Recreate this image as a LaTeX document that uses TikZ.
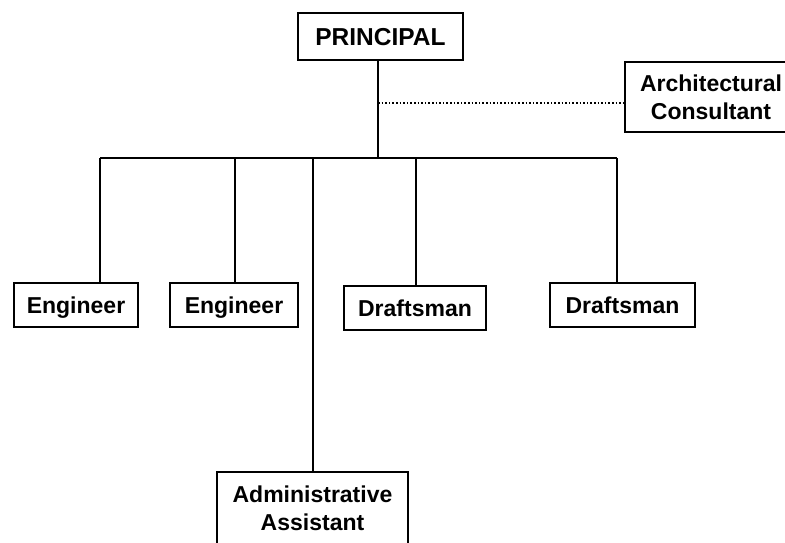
\documentclass[tikz,border=0pt]{standalone}
\usepackage{fontspec}
\setmainfont{Liberation Sans}
\begin{document}
\begin{tikzpicture}[x=1pt,y=-1pt,
  box/.style={draw,line width=2.6pt,rectangle,inner sep=0pt,align=center,
    font=\bfseries\fontsize{23}{28}\selectfont},
  onebox/.style={box,text height=16.5pt,text depth=0pt},
  thinbox/.style={box,line width=1.8pt},
  link/.style={line width=2.2pt},
  side/.style={line width=1.6pt,dotted}]
\useasboundingbox (0,0) rectangle (785,542);
\fill[white] (0,0) rectangle (785,542);
\clip (0,0) rectangle (785,542);

% top of the chart
\node[onebox,minimum width=165pt,minimum height=47pt,
  font=\bfseries\fontsize{24.5}{28}\selectfont,text height=17.5pt]
  (prin) at (380.5,36.5) {PRINCIPAL};
\node[thinbox,minimum width=172pt,minimum height=70pt] (cons) at (711,97)
  {Architectural\\Consultant};

% staff boxes
\node[onebox,minimum width=124pt,minimum height=44pt] (eng1) at (76,305) {Engineer};
\node[onebox,minimum width=128pt,minimum height=44pt] (eng2) at (234,305) {Engineer};
\node[onebox,minimum width=142pt,minimum height=44pt] (dr1) at (415,308) {Draftsman};
\node[onebox,minimum width=145pt,minimum height=44pt] (dr2) at (622.5,305) {Draftsman};
\node[box,minimum width=191pt,minimum height=73pt] (adm) at (312.5,508.5)
  {Administrative\\Assistant};

% distribution bar
\coordinate (pc) at (378,158);
\coordinate (bl) at (100,158);
\coordinate (br) at (617,158);
\coordinate (b2) at (235,158);
\coordinate (b3) at (313,158);
\coordinate (b4) at (416,158);
\coordinate (dl) at (625,103);

\draw[link] (pc |- prin.south) -- (pc);
\draw[link] (bl) -- (br);
\draw[link] (bl) -- (bl |- eng1.north);
\draw[link] (b2) -- (b2 |- eng2.north);
\draw[link] (b3) -- (b3 |- adm.north);
\draw[link] (b4) -- (b4 |- dr1.north);
\draw[link] (br) -- (br |- dr2.north);

% advisory link
\draw[side] (dl -| pc) -- (dl);
\end{tikzpicture}
\end{document}
